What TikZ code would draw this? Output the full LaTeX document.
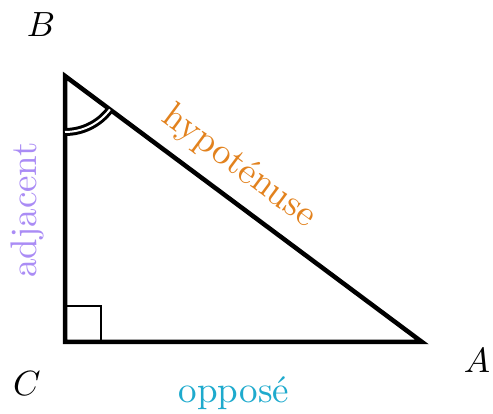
\documentclass[tikz,border=0pt]{standalone}
\usetikzlibrary{angles,calc}
\definecolor{hypcol}{RGB}{226,130,30}
\definecolor{adjcol}{RGB}{170,140,245}
\definecolor{oppcol}{RGB}{30,170,205}
\tikzset{
  side/.style={line width=4.5pt, line join=miter},
  vlabel/.style={scale=3.5, inner sep=0pt},
  sidelabel/.style={scale=3.7, inner sep=0pt}
}
\begin{document}
\begin{tikzpicture}[x=1pt,y=1pt]
\useasboundingbox (0,0) rectangle (493,414);
\coordinate (C) at (65,72);
\coordinate (B) at (65,338);
\coordinate (A) at (422,72);
\draw[side] (C) -- (B) -- (A) -- cycle;
\draw[line width=2.5pt] ($(C)+(36,0)$) -- ++(0,36) -- ++(-36,0);
\pic[draw, line width=3pt, double=white, double distance=2pt, angle radius=56pt] {angle = C--B--A};
\node[vlabel] (lB) at (41,389) {$B$};
\node[vlabel] (lC) at (27,30) {$C$};
\node[vlabel] (lA) at (477,53) {$A$};
\node[sidelabel, text=hypcol, rotate=-36.7] (hyp) at (239,247) {hypoténuse};
\node[sidelabel, text=adjcol, rotate=90] (adj) at (27,204) {adjacent};
\node[sidelabel, text=oppcol] (opp) at (234,21) {opposé};
\end{tikzpicture}
\end{document}
